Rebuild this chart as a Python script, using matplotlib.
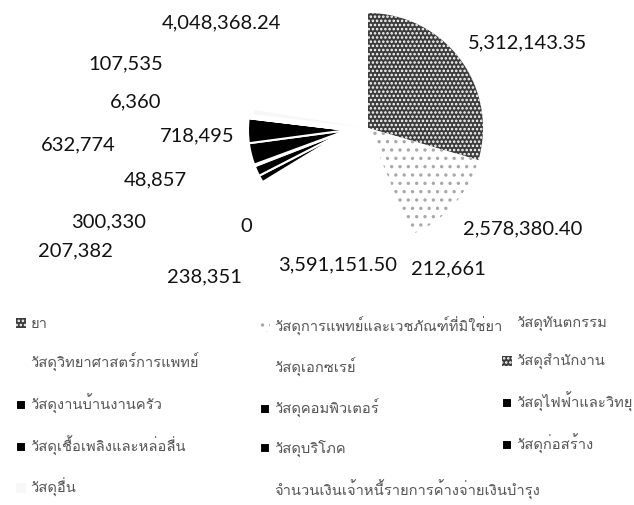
import matplotlib
matplotlib.use("Agg")
import matplotlib.pyplot as plt
from matplotlib import font_manager
from matplotlib.ft2font import FT2Font
from matplotlib.legend import Legend

# ข้อมูลจากภาพ
categories = [
    "ยา",
    "วัสดุการแพทย์และเวชภัณฑ์ที่มิใช่ยา",
    "วัสดุทันตกรรม",
    "วัสดุวิทยาศาสตร์การแพทย์",
    "วัสดุเอกซเรย์",
    "วัสดุสำนักงาน",
    "วัสดุงานบ้านงานครัว",
    "วัสดุคอมพิวเตอร์",
    "วัสดุไฟฟ้าและวิทยุ",
    "วัสดุเชื้อเพลิงและหล่อลื่น",
    "วัสดุบริโภค",
    "วัสดุก่อสร้าง",
    "วัสดุอื่น",
    "จำนวนเงินเจ้าหนี้รายการค้างจ่ายเงินบำรุง",
]
values = [5312143.35, 2578380.40, 212661, 3591151.50, 238351, 0, 207382,
          300330, 48857, 632774, 718495, 6360, 107535, 4048368.24]
value_labels = ["5,312,143.35", "2,578,380.40", "212,661", "3,591,151.50",
                "238,351", "0", "207,382", "300,330", "48,857", "632,774",
                "718,495", "6,360", "107,535", "4,048,368.24"]

# ตำแหน่งป้ายตัวเลข (พิกเซล, วัดจากมุมบนซ้าย) ตามที่วางไว้ในภาพต้นฉบับ
label_pos = [(528, 43), (523, 229), (448, 269), (338, 265), (204, 277),
             (246, 226), (75, 251), (109, 222), (155, 180), (78, 145),
             (197, 136), (136, 102), (126, 64), (222, 23)]

# สไตล์ของแต่ละชิ้น (ภาพสแกนขาวดำ)
face = ["#3c3c3c", "white", "white", "white", "white", "#3c3c3c", "black",
        "black", "black", "black", "black", "black", "#f7f7f7", "white"]
hatch = ["....", "..", None, None, None, "....", None, None, None, None,
         None, None, None, None]
hatch_col = ["white", "#a8a8a8", "white", "white", "white", "white", "white",
             "white", "white", "white", "white", "white", "white", "white"]
dark = [6, 7, 8, 9, 10, 11]


def thai_font():
    for f in font_manager.fontManager.ttflist:
        try:
            if 0x0E27 in FT2Font(f.fname).get_charmap():
                return f.name
        except Exception:
            pass
    return "DejaVu Sans"


thai = thai_font()
plt.rcParams["font.family"] = [thai, "DejaVu Sans"]
plt.rcParams["hatch.linewidth"] = 1.2

W, H = 634, 505
fig = plt.figure(figsize=(W / 100, H / 100), dpi=100)
ax = fig.add_axes([0, 0, 1, 1])

cx, cy, r = 368, H - 128, 115
wedges, _ = ax.pie(values, startangle=90, counterclock=False,
                   center=(cx, cy), radius=r, frame=True,
                   wedgeprops=dict(linewidth=0))
ax.set_xlim(0, W)
ax.set_ylim(0, H)
ax.set_aspect("equal")
ax.axis("off")

for i, w in enumerate(wedges):
    w.set_facecolor(face[i])
    w.set_edgecolor(hatch_col[i])
    if hatch[i]:
        w.set_hatch(hatch[i])
    if i in dark:
        # ชิ้นเล็กสีดำถูกดึงออกทางซ้ายในภาพ
        w.set_center((cx - 20, cy - 2))
        w.set_radius(100)
        w.set_linewidth(1.5)
        w.set_edgecolor("white")

for txt, (x, y) in zip(value_labels, label_pos):
    ax.text(x, H - y, txt, ha="center", va="center", fontsize=14.5,
            family=["Lato", "DejaVu Sans"], color="#111111")

# legend แบบ 3 คอลัมน์ เรียงตามแถว
columns = [[0, 3, 6, 9, 12], [1, 4, 7, 10, 13], [2, 5, 8, 11]]
col_x = [16, 260, 502]
for idx, x0 in zip(columns, col_x):
    leg = Legend(ax, [wedges[i] for i in idx], [categories[i] for i in idx],
                 loc="upper left", bbox_to_anchor=(x0 / W, 1 - 317 / H),
                 bbox_transform=fig.transFigure, frameon=False,
                 fontsize=10.6, handlelength=0.65, handleheight=0.65,
                 handletextpad=0.35, labelspacing=1.5, borderpad=0,
                 borderaxespad=0, labelcolor="#555555")
    ax.add_artist(leg)

fig.savefig("out.png", dpi=100)
